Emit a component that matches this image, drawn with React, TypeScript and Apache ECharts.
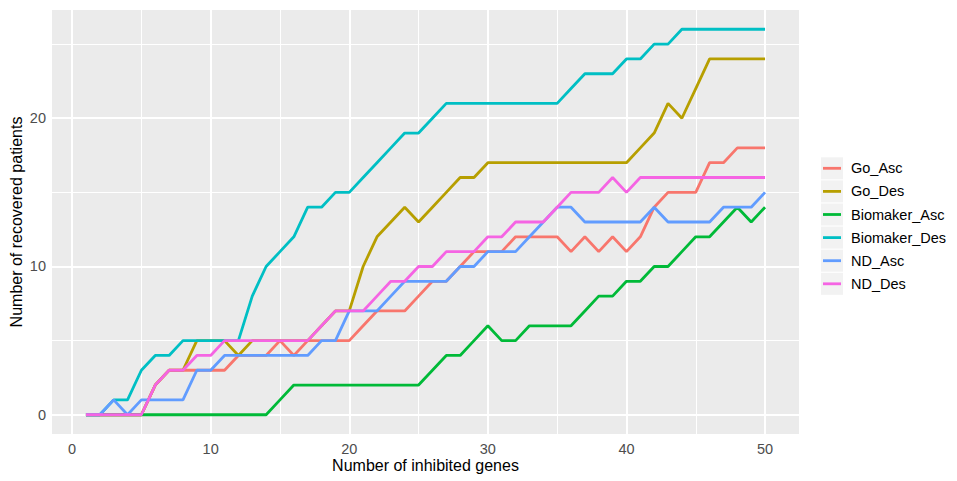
import React, { useEffect, useRef } from "react";
import * as echarts from "echarts";

const genes = [1, 2, 3, 4, 5, 6, 7, 8, 9, 10, 11, 12, 13, 14, 15, 16, 17, 18, 19, 20, 21, 22, 23, 24, 25, 26, 27, 28, 29, 30, 31, 32, 33, 34, 35, 36, 37, 38, 39, 40, 41, 42, 43, 44, 45, 46, 47, 48, 49, 50];

const goAsc = [0, 0, 0, 0, 0, 2, 3, 3, 3, 3, 3, 4, 4, 4, 5, 4, 5, 5, 5, 5, 6, 7, 7, 7, 8, 9, 9, 10, 11, 11, 11, 12, 12, 12, 12, 11, 12, 11, 12, 11, 12, 14, 15, 15, 15, 17, 17, 18, 18, 18];
const goDes = [0, 0, 0, 0, 0, 2, 3, 3, 5, 5, 5, 4, 5, 5, 5, 5, 5, 6, 7, 7, 10, 12, 13, 14, 13, 14, 15, 16, 16, 17, 17, 17, 17, 17, 17, 17, 17, 17, 17, 17, 18, 19, 21, 20, 22, 24, 24, 24, 24, 24];
const biomakerAsc = [0, 0, 0, 0, 0, 0, 0, 0, 0, 0, 0, 0, 0, 0, 1, 2, 2, 2, 2, 2, 2, 2, 2, 2, 2, 3, 4, 4, 5, 6, 5, 5, 6, 6, 6, 6, 7, 8, 8, 9, 9, 10, 10, 11, 12, 12, 13, 14, 13, 14];
const biomakerDes = [0, 0, 1, 1, 3, 4, 4, 5, 5, 5, 5, 5, 8, 10, 11, 12, 14, 14, 15, 15, 16, 17, 18, 19, 19, 20, 21, 21, 21, 21, 21, 21, 21, 21, 21, 22, 23, 23, 23, 24, 24, 25, 25, 26, 26, 26, 26, 26, 26, 26];
const ndAsc = [0, 0, 1, 0, 1, 1, 1, 1, 3, 3, 4, 4, 4, 4, 4, 4, 4, 5, 5, 7, 7, 7, 8, 9, 9, 9, 9, 10, 10, 11, 11, 11, 12, 13, 14, 14, 13, 13, 13, 13, 13, 14, 13, 13, 13, 13, 14, 14, 14, 15];
const ndDes = [0, 0, 0, 0, 0, 2, 3, 3, 4, 4, 5, 5, 5, 5, 5, 5, 5, 6, 7, 7, 7, 8, 9, 9, 10, 10, 11, 11, 11, 12, 12, 13, 13, 13, 14, 15, 15, 15, 16, 15, 16, 16, 16, 16, 16, 16, 16, 16, 16, 16];

const seriesNames = ["Go_Asc", "Go_Des", "Biomaker_Asc", "Biomaker_Des", "ND_Asc", "ND_Des"];
const seriesValues = [goAsc, goDes, biomakerAsc, biomakerDes, ndAsc, ndDes];
const seriesColors = ["#F8766D", "#B79F00", "#00BA38", "#00BFC4", "#619CFF", "#F564E3"];

const xTicks = [0, 10, 20, 30, 40, 50];
const xMinor = [5, 15, 25, 35, 45];
const yTicks = [0, 10, 20];
const yMinor = [5, 15, 25];

const xTitle = "Number of inhibited genes";
const yTitle = "Number of recovered patients";

const FONT = '"Liberation Sans", Arial, sans-serif';

export default function App() {
  const ref = useRef<HTMLDivElement>(null);

  useEffect(() => {
    if (!ref.current) return;
    const chart = echarts.init(ref.current, undefined, { renderer: "svg" });

    const gridLines: any[] = [];
    xTicks.forEach((v) => gridLines.push({ xAxis: v, lineStyle: { color: "#FFFFFF", width: 2, type: "solid" } }));
    xMinor.forEach((v) => gridLines.push({ xAxis: v, lineStyle: { color: "#FFFFFF", width: 1, type: "solid" } }));
    yTicks.forEach((v) => gridLines.push({ yAxis: v, lineStyle: { color: "#FFFFFF", width: 2, type: "solid" } }));
    yMinor.forEach((v) => gridLines.push({ yAxis: v, lineStyle: { color: "#FFFFFF", width: 1, type: "solid" } }));

    const lineSeries = seriesNames.map((name, i) => ({
      name,
      type: "line",
      data: genes.map((g, j) => [g, seriesValues[i][j]]),
      showSymbol: false,
      symbol: "none",
      z: 3,
      silent: true,
      lineStyle: { color: seriesColors[i], width: 2.8 },
      itemStyle: { color: seriesColors[i] },
    }));

    const legendGraphics: any[] = [];
    seriesNames.forEach((name, i) => {
      const cy = 168.3 + 23.1 * i;
      legendGraphics.push({
        type: "rect",
        shape: { x: 821, y: cy - 11, width: 22, height: 22 },
        style: { fill: "#F2F2F2" },
        silent: true,
      });
      legendGraphics.push({
        type: "line",
        shape: { x1: 823, y1: cy, x2: 841, y2: cy },
        style: { stroke: seriesColors[i], lineWidth: 2.8 },
        silent: true,
      });
      legendGraphics.push({
        type: "text",
        x: 851,
        y: cy,
        style: {
          text: name,
          fill: "#000000",
          font: `14.5px ${FONT}`,
          textAlign: "left",
          textVerticalAlign: "middle",
        },
        silent: true,
      });
    });

    const option: any = {
      animation: false,
      backgroundColor: "#FFFFFF",
      grid: {
        left: 52,
        top: 10,
        width: 747,
        height: 424,
        show: true,
        backgroundColor: "#EBEBEB",
        borderWidth: 0,
      },
      xAxis: {
        type: "value",
        min: -1.45,
        max: 52.45,
        axisLine: { show: false },
        axisTick: { show: true, customValues: xTicks, length: 4, lineStyle: { color: "#333333", width: 1 } },
        axisLabel: { customValues: xTicks, color: "#4D4D4D", fontSize: 14.5, fontFamily: FONT, margin: 7 },
        splitLine: { show: false },
      },
      yAxis: {
        type: "value",
        min: -1.3,
        max: 27.3,
        axisLine: { show: false },
        axisTick: { show: true, customValues: yTicks, length: 4, lineStyle: { color: "#333333", width: 1 } },
        axisLabel: { customValues: yTicks, color: "#4D4D4D", fontSize: 14.5, fontFamily: FONT, margin: 6 },
        splitLine: { show: false },
      },
      series: [
        {
          name: "grid",
          type: "line",
          data: [],
          silent: true,
          z: 1,
          markLine: {
            silent: true,
            z: 1,
            animation: false,
            symbol: ["none", "none"],
            label: { show: false },
            emphasis: { disabled: true },
            data: gridLines,
          },
        },
        ...lineSeries,
      ],
      graphic: [
        {
          type: "text",
          x: 425.5,
          y: 465,
          style: {
            text: xTitle,
            fill: "#000000",
            font: `16px ${FONT}`,
            textAlign: "center",
            textVerticalAlign: "middle",
          },
          silent: true,
        },
        {
          type: "text",
          x: 16,
          y: 222,
          rotation: Math.PI / 2,
          style: {
            text: yTitle,
            fill: "#000000",
            font: `16px ${FONT}`,
            textAlign: "center",
            textVerticalAlign: "middle",
          },
          silent: true,
        },
        ...legendGraphics,
      ],
    };

    chart.setOption(option);
    return () => {
      chart.dispose();
    };
  }, []);

  return (
    <div
      ref={ref}
      style={{ position: "fixed", left: 0, top: 0, width: 957, height: 481 }}
    />
  );
}
